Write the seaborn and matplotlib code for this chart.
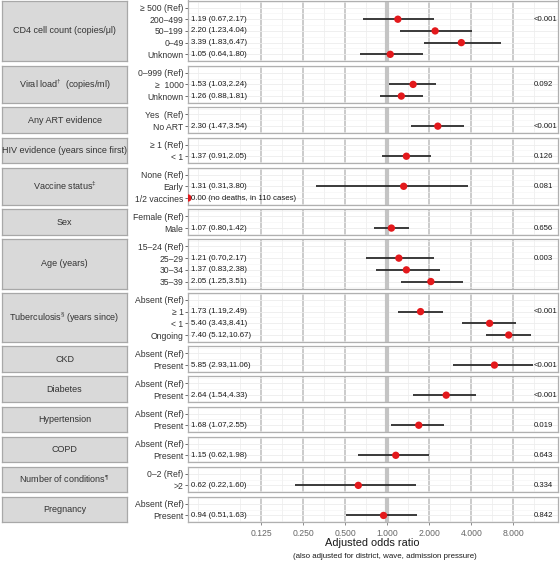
import numpy as np
import pandas as pd
import matplotlib
matplotlib.use("Agg")
import matplotlib.pyplot as plt
from matplotlib.ticker import FixedLocator, NullFormatter
import seaborn as sns

sns.set_theme(style="white")
plt.rcParams['font.family'] = ['Liberation Sans', 'DejaVu Sans']
plt.rcParams['mathtext.fontset'] = 'custom'
plt.rcParams['mathtext.rm'] = 'Liberation Sans'

# ---------------- data ----------------
groups = [
    "CD4 cell count (copies/μl)",
    r"Viral load$^{\dagger}$  (copies/ml)",
    "Any ART evidence",
    "HIV evidence (years since first)",
    r"Vaccine status$^{\ddagger}$",
    "Sex",
    "Age (years)",
    r"Tuberculosis$^{\S}$ (years since)",
    "CKD",
    "Diabetes",
    "Hypertension",
    "COPD",
    r"Number of conditions$^{\P}$",
    "Pregnancy",
]
levels = [
    ["≥ 500 (Ref)", "200–499", "50–199", "0–49", "Unknown"],
    ["0–999 (Ref)", "≥  1000", "Unknown"],
    ["Yes  (Ref)", "No ART"],
    ["≥ 1 (Ref)", "< 1"],
    ["None (Ref)", "Early", "1/2 vaccines"],
    ["Female (Ref)", "Male"],
    ["15–24 (Ref)", "25–29", "30–34", "35–39"],
    ["Absent (Ref)", "≥ 1", "< 1", "Ongoing"],
    ["Absent (Ref)", "Present"],
    ["Absent (Ref)", "Present"],
    ["Absent (Ref)", "Present"],
    ["Absent (Ref)", "Present"],
    ["0–2 (Ref)", ">2"],
    ["Absent (Ref)", "Present"],
]
odds = [
    [None, 1.19, 2.20, 3.39, 1.05],
    [None, 1.53, 1.26],
    [None, 2.30],
    [None, 1.37],
    [None, 1.31, 0.00],
    [None, 1.07],
    [None, 1.21, 1.37, 2.05],
    [None, 1.73, 5.40, 7.40],
    [None, 5.85],
    [None, 2.64],
    [None, 1.68],
    [None, 1.15],
    [None, 0.62],
    [None, 0.94],
]
lower = [
    [None, 0.67, 1.23, 1.83, 0.64],
    [None, 1.03, 0.88],
    [None, 1.47],
    [None, 0.91],
    [None, 0.31, None],
    [None, 0.80],
    [None, 0.70, 0.83, 1.25],
    [None, 1.19, 3.43, 5.12],
    [None, 2.93],
    [None, 1.54],
    [None, 1.07],
    [None, 0.62],
    [None, 0.22],
    [None, 0.51],
]
upper = [
    [None, 2.17, 4.04, 6.47, 1.80],
    [None, 2.24, 1.81],
    [None, 3.54],
    [None, 2.05],
    [None, 3.80, None],
    [None, 1.42],
    [None, 2.17, 2.38, 3.51],
    [None, 2.49, 8.41, 10.67],
    [None, 11.06],
    [None, 4.33],
    [None, 2.55],
    [None, 1.98],
    [None, 1.60],
    [None, 1.63],
]
pvalues = ["<0.001", "0.092", "<0.001", "0.126", "0.081", "0.656", "0.003",
           "<0.001", "<0.001", "<0.001", "0.019", "0.643", "0.334", "0.842"]
special_labels = {(4, 2): "0.00 (no deaths, in 110 cases)"}
xticks = [0.125, 0.25, 0.5, 1, 2, 4, 8]
xtick_labels = ["0.125", "0.250", "0.500", "1.000", "2.000", "4.000", "8.000"]

# ---------------- layout ----------------
W, H = 560, 561
fig = plt.figure(figsize=(W / 100, H / 100), dpi=100)
XMIN, XMAX = 2 ** -4.74, 2 ** 4.06
px_left, px_right = 188, 558
strip_l, strip_r = 2, 127
u, g, top = 11.7, 4.33, 0.5

red = "#e3191c"
grid_major = "#c2c2c2"
grid_minor = "#ebebeb"
border = "#b0b0b0"

y = top
for gi, grp in enumerate(groups):
    n = len(levels[gi])
    h = (n + 0.2) * u
    bottom_px = y + h
    pos = [px_left / W, 1 - bottom_px / H, (px_right - px_left) / W, h / H]
    ax = fig.add_axes(pos)
    sax = fig.add_axes([strip_l / W, 1 - bottom_px / H, (strip_r - strip_l) / W, h / H])

    df = pd.DataFrame({
        "level": levels[gi],
        "row": np.arange(n),
        "or": [np.nan if v is None else v for v in odds[gi]],
        "lo": [np.nan if v is None else v for v in lower[gi]],
        "hi": [np.nan if v is None else v for v in upper[gi]],
    })
    df["or_plot"] = df["or"].where(df["or"] > 0, XMIN)

    ax.set_xscale("log", base=2)
    ax.set_xlim(XMIN, XMAX)
    ax.set_ylim(n - 1 + 0.6, -0.6)

    # grid
    ax.xaxis.set_major_locator(FixedLocator(xticks))
    ax.xaxis.set_minor_locator(FixedLocator([2 ** (k + 0.5) for k in range(-5, 5)]))
    ax.xaxis.set_minor_formatter(NullFormatter())
    ax.yaxis.set_major_locator(FixedLocator(list(range(n))))
    ax.yaxis.set_minor_locator(FixedLocator([r + 0.5 for r in range(-1, n)]))
    ax.grid(which="major", axis="x", color=grid_major, lw=1.2, zorder=0)
    ax.grid(which="minor", axis="x", color=grid_minor, lw=0.5, zorder=0)
    ax.grid(which="major", axis="y", color="#ededed", lw=0.6, zorder=0)
    ax.grid(which="minor", axis="y", color="#f4f4f4", lw=0.4, zorder=0)
    ax.set_axisbelow(True)
    ax.axvline(1, color="#c4c4c4", lw=3.0, zorder=1)

    # CI and points
    ci = df.dropna(subset=["lo", "hi"])
    ax.hlines(ci["row"], ci["lo"], ci["hi"], color="#2b2b2b", lw=1.3, zorder=2)
    pts = df.dropna(subset=["or"])
    sns.scatterplot(data=pts, x="or_plot", y="row", ax=ax, color=red, s=28,
                    edgecolor="none", linewidth=0, zorder=3, legend=False)

    # estimate labels
    for _, r in pts.iterrows():
        key = (gi, int(r["row"]))
        if key in special_labels:
            lab = special_labels[key]
        else:
            lab = f"{r['or']:.2f} ({r['lo']:.2f},{r['hi']:.2f})"
        ax.text(0.009, r["row"], lab, transform=ax.get_yaxis_transform(),
                ha="left", va="center", fontsize=5.65, color="#1a1a1a", zorder=4)
    # p-value on first non-ref row
    ax.text(11.1, 1, pvalues[gi], ha="left", va="center", fontsize=5.6,
            color="#1a1a1a", zorder=4)

    ax.set_yticks(range(n))
    ax.set_yticklabels(levels[gi])
    ax.tick_params(axis="y", which="major", labelsize=6.2, labelcolor="#333333",
                   length=2.0, width=0.6, color="#555555", pad=1.2, left=True)
    ax.tick_params(which="minor", length=0)
    ax.set_xlabel("")
    ax.set_ylabel("")
    if gi == len(groups) - 1:
        ax.set_xticklabels(xtick_labels)
        ax.tick_params(axis="x", which="major", labelsize=6.2, labelcolor="#666666",
                       length=2.5, width=0.6, color="#777777", pad=2, bottom=True)
    else:
        ax.tick_params(axis="x", which="major", labelbottom=False, length=0)
    for sp in ax.spines.values():
        sp.set_color(border)
        sp.set_linewidth(0.9)
    ax.set_facecolor("white")

    # strip
    sax.set_facecolor("#d9d9d9")
    sax.set_xticks([])
    sax.set_yticks([])
    for sp in sax.spines.values():
        sp.set_color("#a8a8a8")
        sp.set_linewidth(0.9)
    sax.text(0.5, 0.5, grp, transform=sax.transAxes, ha="center", va="center",
             fontsize=6.5, color="#333333")

    y = bottom_px + g

fig.text(372 / W, 1 - 543 / H, "Adjusted odds ratio", ha="center", va="center",
         fontsize=7.9, color="#1a1a1a")
fig.text(385 / W, 1 - 556 / H, "(also adjusted for district, wave, admission pressure)",
         ha="center", va="center", fontsize=5.7, color="#1a1a1a")

fig.savefig("out.png", dpi=100)
